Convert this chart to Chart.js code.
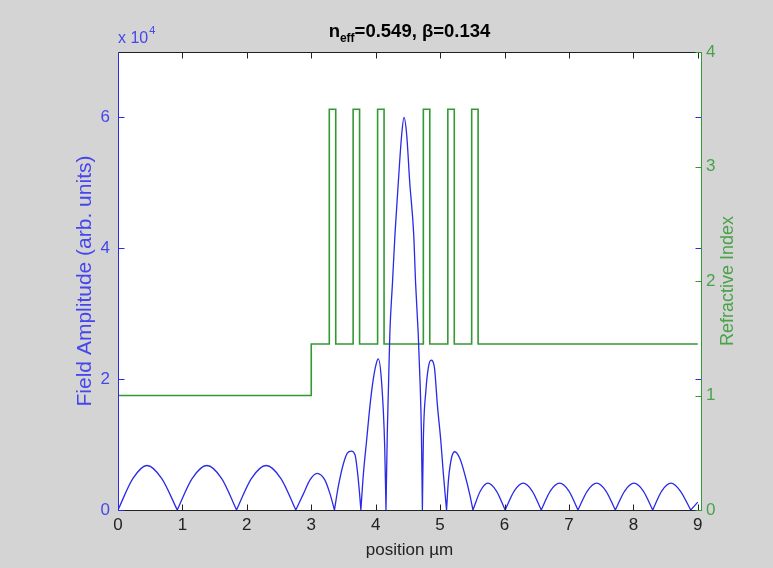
<!DOCTYPE html>
<html>
<head>
<meta charset="utf-8">
<script src="https://cdn.jsdelivr.net/npm/chart.js@4.4.0/dist/chart.umd.min.js"></script>
<style>
  html, body { margin: 0; padding: 0; background: #d4d4d4; }
  #wrap { width: 773px; height: 568px; }
</style>
</head>
<body>
<div id="wrap"><canvas id="myChart" width="773" height="568"></canvas></div>
<script>
// field amplitude |E| (x in um, y in arb. units)
// a zero inside the curve is a cusp, the line is broken there
const fieldX = [
  0, 0.23, 0.45, 0.68, 0.92,
  1.15, 1.38, 1.61, 1.84,
  2.07, 2.30, 2.53, 2.76,
  2.88, 2.98, 3.09, 3.21, 3.29, 3.36,
  3.42, 3.50, 3.56, 3.62, 3.68, 3.72, 3.75, 3.77,
  3.81, 3.86, 3.91, 3.96, 4.01, 4.04, 4.09, 4.14, 4.16,
  4.18, 4.20, 4.22, 4.26, 4.30, 4.35, 4.405, 4.44, 4.48, 4.53, 4.59, 4.62, 4.66, 4.69, 4.71, 4.725,
  4.74, 4.78, 4.82, 4.86, 4.91, 4.96, 5.01, 5.05, 5.10,
  5.13, 5.18, 5.23, 5.31, 5.39, 5.46, 5.51,
  5.625, 5.74, 5.875, 6.01,
  6.15, 6.29, 6.43, 6.57,
  6.71, 6.855, 7.00, 7.14,
  7.285, 7.43, 7.575, 7.72,
  7.865, 8.01, 8.155, 8.30,
  8.44, 8.585, 8.73, 8.89,
  9.00
];
const fieldY = [
  0, 4800, 6800, 4800, 0,
  4800, 6800, 4800, 0,
  4800, 6800, 4800, 0,
  2500, 4600, 5600, 4600, 2500, 0,
  3600, 7100, 8700, 9000, 8400, 5600, 2500, 0,
  5600, 10700, 15800, 19800, 22400, 23100, 19800, 9700, 0,
  11700, 19300, 27000, 34600, 42200, 49900, 57500, 60000, 57500, 49900, 42200, 34600, 27000, 19300, 11700, 0,
  10700, 18300, 21900, 22900, 21900, 15800, 10700, 5600, 0,
  4600, 8100, 8900, 7800, 5200, 2400, 0,
  2900, 4100, 2900, 0,
  2900, 4100, 2900, 0,
  2900, 4100, 2900, 0,
  2900, 4100, 2900, 0,
  2900, 4100, 2900, 0,
  2900, 4100, 2900, 0,
  1200
];

// refractive index profile, each value holds until the next x
const indexX = [0, 3.00, 3.28, 3.38, 3.65, 3.75, 4.03, 4.13, 4.74, 4.84, 5.12, 5.22, 5.49, 5.59, 9.00];
const indexN = [1.0, 1.45, 3.5, 1.45, 3.5, 1.45, 3.5, 1.45, 3.5, 1.45, 3.5, 1.45, 3.5, 1.45, 1.45];

const xTicks = [0, 1, 2, 3, 4, 5, 6, 7, 8, 9];
const ampTicks = [0, 20000, 40000, 60000];
const indexTicks = [0, 1, 2, 3, 4];

const FONT = '"Liberation Sans", Arial, Helvetica, sans-serif';
const BLUE = '#2a2ae6';
const BLUE_TXT = '#4646ee';
const GREEN = '#339933';
const GREEN_TXT = '#4aa24a';

Chart.defaults.font.family = FONT;

const fieldPoints = [];
fieldX.forEach((x, i) => {
  fieldPoints.push({ x: x, y: fieldY[i] });
  if (fieldY[i] === 0 && i > 0 && i < fieldX.length - 1) {
    fieldPoints.push({ x: x, y: null });
    fieldPoints.push({ x: x, y: 0 });
  }
});
const indexPoints = indexX.map((x, i) => ({ x: x, y: indexN[i] }));

// matlab style box: white area, coloured y axes, inward ticks, title
const matlabBox = {
  id: 'matlabBox',
  beforeDraw(chart) {
    const { ctx, chartArea: a } = chart;
    ctx.save();
    ctx.fillStyle = '#d4d4d4';
    ctx.fillRect(0, 0, chart.width, chart.height);
    ctx.fillStyle = '#ffffff';
    ctx.fillRect(a.left, a.top, a.right - a.left, a.bottom - a.top);
    ctx.restore();
  },
  afterDatasetsDraw(chart) {
    const { ctx, chartArea: a, scales } = chart;
    const L = a.left + 0.5, R = a.right + 0.5, T = a.top + 0.5, B = a.bottom + 0.5;
    const tl = 6;
    ctx.save();
    ctx.lineWidth = 1;

    ctx.strokeStyle = '#222';
    ctx.beginPath();
    ctx.moveTo(L, T); ctx.lineTo(R, T);
    ctx.moveTo(L, B); ctx.lineTo(R, B);
    scales.x.ticks.forEach(t => {
      const px = Math.round(scales.x.getPixelForValue(t.value)) + 0.5;
      ctx.moveTo(px, B); ctx.lineTo(px, B - tl);
      ctx.moveTo(px, T); ctx.lineTo(px, T + tl);
    });
    ctx.stroke();

    ctx.strokeStyle = BLUE;
    ctx.beginPath();
    ctx.moveTo(L, T); ctx.lineTo(L, B);
    scales.yAmp.ticks.forEach(t => {
      const py = Math.round(scales.yAmp.getPixelForValue(t.value)) + 0.5;
      ctx.moveTo(L, py); ctx.lineTo(L + tl, py);
      ctx.moveTo(R, py); ctx.lineTo(R - tl, py);
    });
    ctx.stroke();

    ctx.strokeStyle = GREEN;
    ctx.beginPath();
    ctx.moveTo(R, T); ctx.lineTo(R, B);
    scales.yIndex.ticks.forEach(t => {
      const py = Math.round(scales.yIndex.getPixelForValue(t.value)) + 0.5;
      ctx.moveTo(R, py); ctx.lineTo(R - tl, py);
    });
    ctx.stroke();

    // title with subscript
    const cx = (a.left + a.right) / 2;
    const big = 'bold 18.5px ' + FONT, small = 'bold 12px ' + FONT;
    ctx.font = big;
    const wN = ctx.measureText('n').width;
    const rest = '=0.549, \u03b2=0.134';
    const wRest = ctx.measureText(rest).width;
    ctx.font = small;
    const wSub = ctx.measureText('eff').width;
    let x0 = cx - (wN + wSub + wRest) / 2;
    ctx.fillStyle = '#000';
    ctx.textBaseline = 'alphabetic';
    ctx.textAlign = 'left';
    ctx.font = big;
    ctx.fillText('n', x0, 37);
    ctx.font = small;
    ctx.fillText('eff', x0 + wN, 42);
    ctx.font = big;
    ctx.fillText(rest, x0 + wN + wSub, 37);

    // exponent of the left axis
    ctx.fillStyle = BLUE_TXT;
    ctx.font = '16px ' + FONT;
    ctx.fillText('x 10', a.left, 43);
    const w10 = ctx.measureText('x 10').width;
    ctx.font = '11px ' + FONT;
    ctx.fillText('4', a.left + w10 + 1, 34);

    // right axis label, reads bottom to top like the left one
    ctx.fillStyle = GREEN_TXT;
    ctx.font = '18px ' + FONT;
    ctx.textAlign = 'center';
    ctx.textBaseline = 'middle';
    ctx.translate(728, (a.top + a.bottom) / 2);
    ctx.rotate(-Math.PI / 2);
    ctx.fillText('Refractive Index', 0, 0);
    ctx.restore();
  }
};

const ctx1 = document.getElementById('myChart');
const myChart = new Chart(ctx1, {
  type: 'line',
  data: {
    datasets: [
      {
        label: 'Field Amplitude',
        data: fieldPoints,
        yAxisID: 'yAmp',
        borderColor: BLUE,
        borderWidth: 1.3,
        pointRadius: 0,
        cubicInterpolationMode: 'monotone',
        spanGaps: false
      },
      {
        label: 'Refractive Index',
        data: indexPoints,
        yAxisID: 'yIndex',
        borderColor: GREEN,
        borderWidth: 1.6,
        pointRadius: 0,
        stepped: true
      }
    ]
  },
  options: {
    responsive: false,
    animation: false,
    devicePixelRatio: 1,
    layout: { padding: { top: 52, left: 70, right: 30, bottom: 3 } },
    plugins: {
      legend: { display: false },
      tooltip: { enabled: false }
    },
    scales: {
      x: {
        type: 'linear',
        min: 0,
        max: 9.05,
        afterFit: s => { s.height = 55; },
        afterBuildTicks: s => { s.ticks = xTicks.map(v => ({ value: v })); },
        ticks: { color: '#222', font: { size: 17 }, padding: 5, maxRotation: 0, autoSkip: false },
        grid: { display: false, drawTicks: false },
        border: { display: false },
        title: { display: true, text: 'position \u00b5m', color: '#222', font: { size: 17 }, padding: { top: 0, bottom: 4 } }
      },
      yAmp: {
        type: 'linear',
        position: 'left',
        min: 0,
        max: 70000,
        afterFit: s => { s.width = 48; },
        afterBuildTicks: s => { s.ticks = ampTicks.map(v => ({ value: v })); },
        ticks: { color: BLUE_TXT, font: { size: 17 }, padding: 8, callback: v => v / 10000 },
        grid: { display: false, drawTicks: false },
        border: { display: false },
        title: { display: true, text: 'Field Amplitude (arb. units)', color: BLUE_TXT, font: { size: 21 }, padding: { top: 3, bottom: 0 } }
      },
      yIndex: {
        type: 'linear',
        position: 'right',
        min: 0,
        max: 4,
        afterFit: s => { s.width = 42; },
        afterBuildTicks: s => { s.ticks = indexTicks.map(v => ({ value: v })); },
        ticks: { color: GREEN_TXT, font: { size: 17 }, padding: 5 },
        grid: { display: false, drawTicks: false },
        border: { display: false },
        title: { display: false }
      }
    }
  },
  plugins: [matlabBox]
});
</script>
</body>
</html>
